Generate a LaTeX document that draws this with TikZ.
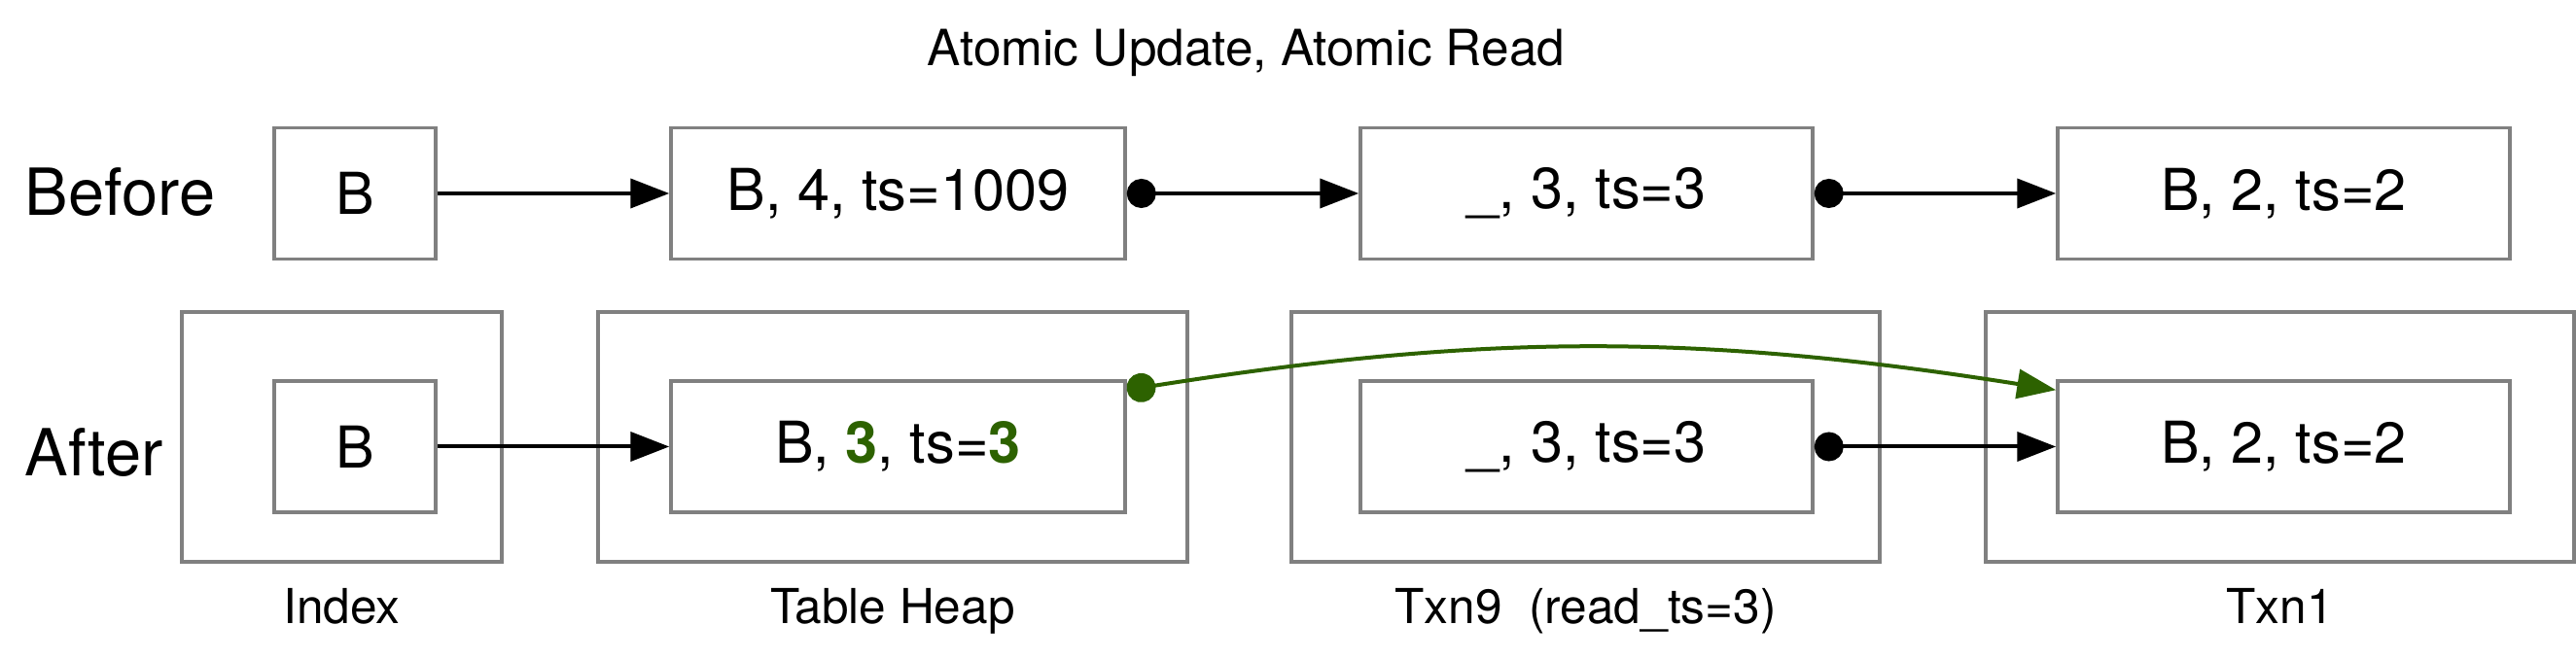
\documentclass[tikz,border=0pt]{standalone}
\usepackage{fontspec}
\setmainfont{TeX Gyre Heros}
\usetikzlibrary{calc,arrows.meta,positioning}
\definecolor{updgreen}{HTML}{2D6200}
\tikzstyle{cell} = [draw=gray, line width=0.035cm, minimum height=1.35cm, inner sep=0pt, font=\fontsize{16.9}{20}\selectfont]
\tikzstyle{frame} = [draw=gray, line width=0.035cm, minimum height=2.57cm, inner sep=0pt]
\tikzstyle{arrow} = [line width=0.04cm, -{Triangle[length=0.4cm,width=0.3cm]}]
\tikzstyle{dotarrow} = [line width=0.04cm, {Circle[length=0.3cm]}-{Triangle[length=0.4cm,width=0.3cm]}]
\tikzstyle{rowname} = [anchor=base west, inner sep=0pt, font=\fontsize{19}{23}\selectfont]
\tikzstyle{caption} = [anchor=base, inner sep=0pt, font=\fontsize{14.1}{17}\selectfont]

\begin{document}
\begin{tikzpicture}
	\useasboundingbox (0,0) rectangle (26.49,6.79);

	%% title and row names
	\node[anchor=base, inner sep=0pt, font=\fontsize{14.6}{17}\selectfont] (title) at (12.815,6.11) {Atomic Update, Atomic Read};
	\node[rowname] (before) at (0.25,4.57) {Before};
	\node[rowname] (after) at (0.25,1.89) {After};

	%% outer frames (After)
	\node[frame, minimum width=3.29cm] (Fidx) at (3.515,2.295) {};
	\node[frame, minimum width=6.06cm] (Fheap) at (9.18,2.295) {};
	\node[frame, minimum width=6.05cm] (Ftxn9) at (16.305,2.295) {};
	\node[frame, minimum width=6.05cm] (Ftxn1) at (23.445,2.295) {};

	\node[caption] (Lidx) at (Fidx.south |- 0,0.37) {Index};
	\node[caption] (Lheap) at (Fheap.south |- 0,0.37) {Table Heap};
	\node[caption] (Ltxn9) at (Ftxn9.south |- 0,0.37) {Txn9~~(read\_ts=3)};
	\node[caption] (Ltxn1) at (Ftxn1.south |- 0,0.37) {Txn1};

	%% Before row
	\node[cell, minimum width=1.66cm] (B0) at (3.65,4.80) {B};
	\node[cell, minimum width=4.67cm] (V4) at (9.235,4.80) {B, 4, ts=1009};
	\node[cell, minimum width=4.65cm] (V3) at (16.315,4.80) {\_, 3, ts=3};
	\node[cell, minimum width=4.65cm] (V2) at (23.485,4.80) {B, 2, ts=2};

	%% After row
	\node[cell, minimum width=1.66cm] (B1) at (3.65,2.195) {B};
	\node[cell, minimum width=4.67cm] (H1) at (9.235,2.195) {B, \textcolor{updgreen}{\textbf{3}}, ts=\textcolor{updgreen}{\textbf{3}}};
	\node[cell, minimum width=4.65cm] (T9) at (16.315,2.195) {\_, 3, ts=3};
	\node[cell, minimum width=4.65cm] (T1) at (23.485,2.195) {B, 2, ts=2};

	%% version chains
	\draw[arrow] (B0) -- (V4);
	\draw[dotarrow] (V4.east) -- (V3.west);
	\draw[dotarrow] (V3.east) -- (V2.west);

	\draw[arrow] (B1) -- (H1);
	\draw[dotarrow] (T9.east) -- (T1.west);
	\draw[dotarrow, updgreen] ($(H1.north east)+(0,-0.11)$) to[bend left=9] ($(T1.north west)+(0,-0.11)$);
\end{tikzpicture}
\end{document}
